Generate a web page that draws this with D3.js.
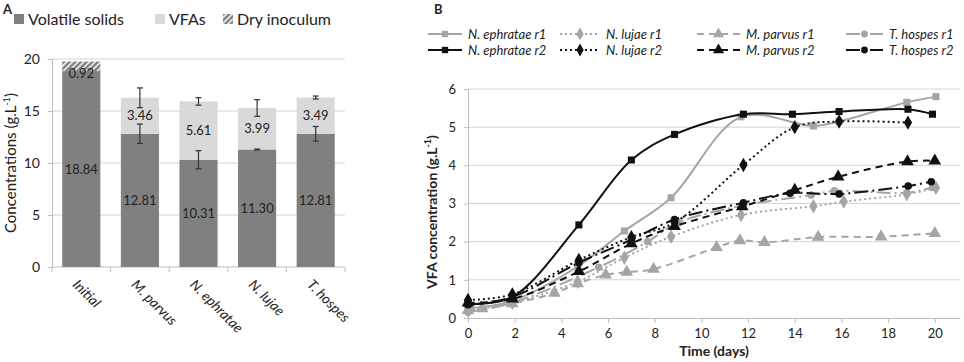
<!DOCTYPE html>
<html>
<head>
<meta charset="utf-8">
<script src="https://cdn.jsdelivr.net/npm/d3@7"></script>
<style>
  body { margin: 0; background: #fff; }
  svg text { font-family: Lato, "Open Sans", sans-serif; fill: #222; }
</style>
</head>
<body>
<svg id="fig" width="964" height="362"></svg>
<script>
// Panel A: stacked bars
const categories = ["Initial", "M. parvus", "N. ephratae", "N. lujae", "T. hospes"];
const vsValues = [18.84, 12.81, 10.31, 11.30, 12.81];
const vfaValues = [0, 3.46, 5.61, 3.99, 3.49];
const inocValues = [0.92, 0, 0, 0, 0];
const vsErr = [0, 0.93, 0.87, 0.04, 0.7];
const vfaErr = [0, 0.95, 0.36, 0.8, 0.14];
const yTicksA = [0, 5, 10, 15, 20];

// Panel B: VFA time courses (day, g/L)
const ephratae1 = [[0, 0.25], [1.9, 0.45], [4.7, 1.35], [6.7, 2.28], [8.7, 3.15], [11.7, 5.27], [14.8, 5.03], [15.9, 5.15], [18.8, 5.65], [20.05, 5.8]];
const ephratae2 = [[0, 0.37], [1.9, 0.55], [4.75, 2.44], [7.0, 4.14], [8.85, 4.81], [11.8, 5.34], [13.9, 5.34], [15.9, 5.41], [18.85, 5.47], [19.9, 5.34]];
const lujae1 = [[0, 0.2], [1.9, 0.4], [4.7, 0.95], [6.7, 1.58], [8.7, 2.13], [11.7, 2.7], [14.8, 2.93], [16.1, 3.05], [18.8, 3.24], [20.05, 3.41]];
const lujae2 = [[0, 0.47], [1.9, 0.62], [4.75, 1.52], [7.0, 2.12], [8.85, 2.5], [11.8, 4.01], [14.0, 5.0], [15.9, 5.15], [18.85, 5.12]];
const parvus1 = [[0, 0.2], [0.6, 0.25], [1.9, 0.38], [3.7, 0.65], [4.7, 0.9], [5.9, 1.13], [6.8, 1.2], [7.95, 1.28], [10.65, 1.85], [11.65, 2.03], [12.7, 1.98], [15.0, 2.12], [17.7, 2.13], [20.0, 2.22]];
const parvus2 = [[0, 0.4], [1.9, 0.5], [4.75, 1.22], [7.0, 1.95], [8.85, 2.4], [11.75, 2.92], [14.0, 3.35], [15.86, 3.7], [18.83, 4.1], [20.0, 4.12]];
const hospes1 = [[0, 0.15], [1.9, 0.4], [5.6, 1.33], [7.7, 2.0], [9.0, 2.5], [11.8, 2.95], [14.7, 3.22], [15.7, 3.33], [18.8, 3.28], [19.9, 3.42]];
const hospes2 = [[0, 0.35], [1.9, 0.55], [4.75, 1.45], [7.0, 2.05], [8.85, 2.58], [11.8, 3.02], [13.8, 3.27], [15.9, 3.25], [18.86, 3.46], [19.85, 3.57]];
const xTicksB = [0, 2, 4, 6, 8, 10, 12, 14, 16, 18, 20];
const yTicksB = [0, 1, 2, 3, 4, 5, 6];

const GRAY = "#a5a5a5", BLACK = "#111";
const seriesB = [
  { name: "N. ephratae r1", data: ephratae1, color: GRAY, dash: null, sym: d3.symbolSquare, size: 50 },
  { name: "N. lujae r1", data: lujae1, color: GRAY, dash: "2,3", sym: d3.symbolDiamond, size: 60 },
  { name: "M. parvus r1", data: parvus1, color: GRAY, dash: "7,5", sym: d3.symbolTriangle, size: 70 },
  { name: "T. hospes r1", data: hospes1, color: GRAY, dash: "14,4,2,4", sym: d3.symbolCircle, size: 45 },
  { name: "N. ephratae r2", data: ephratae2, color: BLACK, dash: null, sym: d3.symbolSquare, size: 50 },
  { name: "N. lujae r2", data: lujae2, color: BLACK, dash: "2,3", sym: d3.symbolDiamond, size: 60 },
  { name: "M. parvus r2", data: parvus2, color: BLACK, dash: "7,5", sym: d3.symbolTriangle, size: 70 },
  { name: "T. hospes r2", data: hospes2, color: BLACK, dash: "14,4,2,4", sym: d3.symbolCircle, size: 45 }
];

const svg = d3.select("#fig");

// hatch pattern for dry inoculum
const defs = svg.append("defs");
const pat = defs.append("pattern")
  .attr("id", "hatch")
  .attr("patternUnits", "userSpaceOnUse")
  .attr("width", 4).attr("height", 4)
  .attr("patternTransform", "rotate(45)");
pat.append("rect").attr("width", 4).attr("height", 4).attr("fill", "#e0e0e0");
pat.append("rect").attr("width", 2).attr("height", 4).attr("fill", "#7a7a7a");

// ---------- Panel A ----------
const xA = d3.scaleBand().domain(categories).range([52, 345]).paddingInner(0.35).paddingOuter(0.175);
const yA = d3.scaleLinear().domain([0, 20]).range([267, 59]);

svg.append("text").attr("x", 3).attr("y", 14)
  .style("font-weight", "bold").style("font-size", "13px").text("A");

const gA = svg.append("g");

gA.append("g").selectAll("line").data(yTicksA.slice(1)).join("line")
  .attr("x1", 52).attr("x2", 345)
  .attr("y1", d => yA(d)).attr("y2", d => yA(d))
  .attr("stroke", "#d4d4d4");

const yAxisA = gA.append("g").attr("transform", "translate(52,0)")
  .call(d3.axisLeft(yA).tickValues(yTicksA).tickSize(4).tickPadding(8));
yAxisA.select(".domain").attr("stroke", "#bdbdbd");
yAxisA.selectAll(".tick line").attr("stroke", "#bdbdbd");
yAxisA.selectAll(".tick text").style("font-size", "14px").attr("fill", "#222");

// x axis with boundary ticks
gA.append("line").attr("x1", 52).attr("x2", 345).attr("y1", 267).attr("y2", 267).attr("stroke", "#bdbdbd");
gA.append("g").selectAll("line").data(d3.range(categories.length + 1)).join("line")
  .attr("x1", i => 52 + i * xA.step()).attr("x2", i => 52 + i * xA.step())
  .attr("y1", 267).attr("y2", 272).attr("stroke", "#bdbdbd");

const bars = gA.append("g").selectAll("g").data(categories).join("g");
bars.append("rect")
  .attr("x", d => xA(d)).attr("width", xA.bandwidth())
  .attr("y", (d, i) => yA(vsValues[i])).attr("height", (d, i) => yA(0) - yA(vsValues[i]))
  .attr("fill", "#808080");
bars.filter((d, i) => vfaValues[i] > 0).append("rect")
  .attr("x", d => xA(d)).attr("width", xA.bandwidth())
  .attr("y", d => { const i = categories.indexOf(d); return yA(vsValues[i] + vfaValues[i]); })
  .attr("height", d => { const i = categories.indexOf(d); return yA(vsValues[i]) - yA(vsValues[i] + vfaValues[i]); })
  .attr("fill", "#d9d9d9");
bars.filter((d, i) => inocValues[i] > 0).append("rect")
  .attr("x", d => xA(d)).attr("width", xA.bandwidth())
  .attr("y", d => { const i = categories.indexOf(d); return yA(vsValues[i] + inocValues[i]); })
  .attr("height", d => { const i = categories.indexOf(d); return yA(vsValues[i]) - yA(vsValues[i] + inocValues[i]); })
  .attr("fill", "url(#hatch)");

// value labels
const fmt = d3.format(".2f");
bars.append("text")
  .attr("x", d => xA(d) + xA.bandwidth() / 2)
  .attr("y", (d, i) => yA(vsValues[i] / 2))
  .attr("dy", "0.35em").attr("text-anchor", "middle").style("font-size", "13px")
  .text((d, i) => fmt(vsValues[i]));
bars.filter((d, i) => vfaValues[i] > 0).append("text")
  .attr("x", d => xA(d) + xA.bandwidth() / 2)
  .attr("y", d => { const i = categories.indexOf(d); return yA(vsValues[i] + vfaValues[i] / 2); })
  .attr("dy", "0.35em").attr("text-anchor", "middle").style("font-size", "13px")
  .text(d => fmt(vfaValues[categories.indexOf(d)]));
bars.filter((d, i) => inocValues[i] > 0).append("text")
  .attr("x", d => xA(d) + xA.bandwidth() / 2)
  .attr("y", d => { const i = categories.indexOf(d); return yA(vsValues[i] + inocValues[i] / 2) + 7; })
  .attr("dy", "0.35em").attr("text-anchor", "middle").style("font-size", "13px")
  .text(d => fmt(inocValues[categories.indexOf(d)]));

// error bars
function errBar(g, cx, v, e) {
  const w = 3;
  g.append("line").attr("x1", cx).attr("x2", cx).attr("y1", yA(v - e)).attr("y2", yA(v + e));
  g.append("line").attr("x1", cx - w).attr("x2", cx + w).attr("y1", yA(v - e)).attr("y2", yA(v - e));
  g.append("line").attr("x1", cx - w).attr("x2", cx + w).attr("y1", yA(v + e)).attr("y2", yA(v + e));
}
const gErr = gA.append("g").attr("stroke", "#333").attr("stroke-width", 1.2);
categories.forEach((c, i) => {
  const cx = xA(c) + xA.bandwidth() / 2;
  if (vsErr[i] > 0) errBar(gErr, cx, vsValues[i], vsErr[i]);
  if (vfaErr[i] > 0) errBar(gErr, cx, vsValues[i] + vfaValues[i], vfaErr[i]);
});

// rotated category labels
gA.append("g").selectAll("text").data(categories).join("text")
  .attr("transform", d => `translate(${xA(d) + xA.bandwidth() / 2 - 6},${282}) rotate(45)`)
  .attr("dy", "0.35em").style("font-size", "14px").style("font-style", "italic")
  .text(d => d);

// y title
const yTitleA = svg.append("text")
  .attr("transform", "translate(16,163) rotate(-90)")
  .attr("text-anchor", "middle").style("font-size", "15px");
yTitleA.append("tspan").text("Concentrations (g.L");
yTitleA.append("tspan").attr("dy", -6).style("font-size", "9px").text("-1");
yTitleA.append("tspan").attr("dy", 6).text(")");

// legend A
const legA = [
  { label: "Volatile solids", fill: "#808080", x: 14 },
  { label: "VFAs", fill: "#d9d9d9", x: 155 },
  { label: "Dry inoculum", fill: "url(#hatch)", x: 223 }
];
const lgA = svg.append("g").selectAll("g").data(legA).join("g")
  .attr("transform", d => `translate(${d.x},19)`);
lgA.append("rect").attr("x", 0).attr("y", -5).attr("width", 10).attr("height", 10).attr("fill", d => d.fill);
lgA.append("text").attr("x", 14).attr("dy", "0.35em").style("font-size", "16px").text(d => d.label);

// ---------- Panel B ----------
const xB = d3.scaleLinear().domain([0, 21.08]).range([468, 960]);
const yB = d3.scaleLinear().domain([0, 6]).range([318, 89]);

svg.append("text").attr("x", 434).attr("y", 14)
  .style("font-weight", "bold").style("font-size", "13px").text("B");

const gB = svg.append("g");
gB.append("g").selectAll("line").data(yTicksB.slice(1)).join("line")
  .attr("x1", 468).attr("x2", 960)
  .attr("y1", d => yB(d)).attr("y2", d => yB(d))
  .attr("stroke", "#d4d4d4");

const yAxisB = gB.append("g").attr("transform", "translate(468,0)")
  .call(d3.axisLeft(yB).tickValues(yTicksB).tickFormat(d3.format("d")).tickSize(4).tickPadding(8));
yAxisB.select(".domain").attr("stroke", "#bdbdbd");
yAxisB.selectAll(".tick line").attr("stroke", "#bdbdbd");
yAxisB.selectAll(".tick text").style("font-size", "13px").attr("fill", "#222");

const xAxisB = gB.append("g").attr("transform", "translate(0,318)")
  .call(d3.axisBottom(xB).tickValues(xTicksB).tickSize(5).tickPadding(6).tickSizeOuter(0));
xAxisB.select(".domain").attr("stroke", "#bdbdbd");
xAxisB.selectAll(".tick line").attr("stroke", "#bdbdbd");
xAxisB.selectAll(".tick text").style("font-size", "13px").attr("fill", "#222");

svg.append("text").attr("x", 714).attr("y", 356).attr("text-anchor", "middle")
  .style("font-size", "14px").style("font-weight", "bold").text("Time (days)");

const yTitleB = svg.append("text")
  .attr("transform", "translate(437,212) rotate(-90)")
  .attr("text-anchor", "middle").style("font-size", "14px").style("font-weight", "bold");
yTitleB.append("tspan").text("VFA concentration (g.L");
yTitleB.append("tspan").attr("dy", -6).style("font-size", "9px").text("-1");
yTitleB.append("tspan").attr("dy", 6).text(")");

const line = d3.line().x(d => xB(d[0])).y(d => yB(d[1])).curve(d3.curveCatmullRom.alpha(0.5));

const gS = gB.append("g").selectAll("g").data(seriesB).join("g");
gS.append("path")
  .attr("d", s => line(s.data))
  .attr("fill", "none").attr("stroke", s => s.color).attr("stroke-width", 2)
  .attr("stroke-dasharray", s => s.dash);
gS.each(function (s) {
  d3.select(this).selectAll("path.m").data(s.data).join("path").attr("class", "m")
    .attr("transform", d => `translate(${xB(d[0])},${yB(d[1])})`)
    .attr("d", d3.symbol(s.sym, s.size))
    .attr("fill", s.color);
});

// legend B: 4 columns x 2 rows
const legSymX = [428, 560, 697, 846];
const legTextX = [468, 606, 746, 889];
const legRows = [34, 50];
const lgB = svg.append("g").selectAll("g").data(seriesB).join("g")
  .attr("transform", (s, i) => `translate(0,${legRows[Math.floor(i / 4)]})`);
lgB.append("line")
  .attr("x1", (s, i) => legSymX[i % 4]).attr("x2", (s, i) => legTextX[i % 4] - 6)
  .attr("y1", 0).attr("y2", 0)
  .attr("stroke", s => s.color).attr("stroke-width", 2).attr("stroke-dasharray", s => s.dash);
lgB.append("path")
  .attr("transform", (s, i) => `translate(${(legSymX[i % 4] + legTextX[i % 4] - 6) / 2},0)`)
  .attr("d", s => d3.symbol(s.sym, s.size * 0.8)()).attr("fill", s => s.color);
lgB.append("text").attr("x", (s, i) => legTextX[i % 4]).attr("dy", "0.35em")
  .style("font-size", "13px").style("font-style", "italic").text(s => s.name);
</script>
</body>
</html>
